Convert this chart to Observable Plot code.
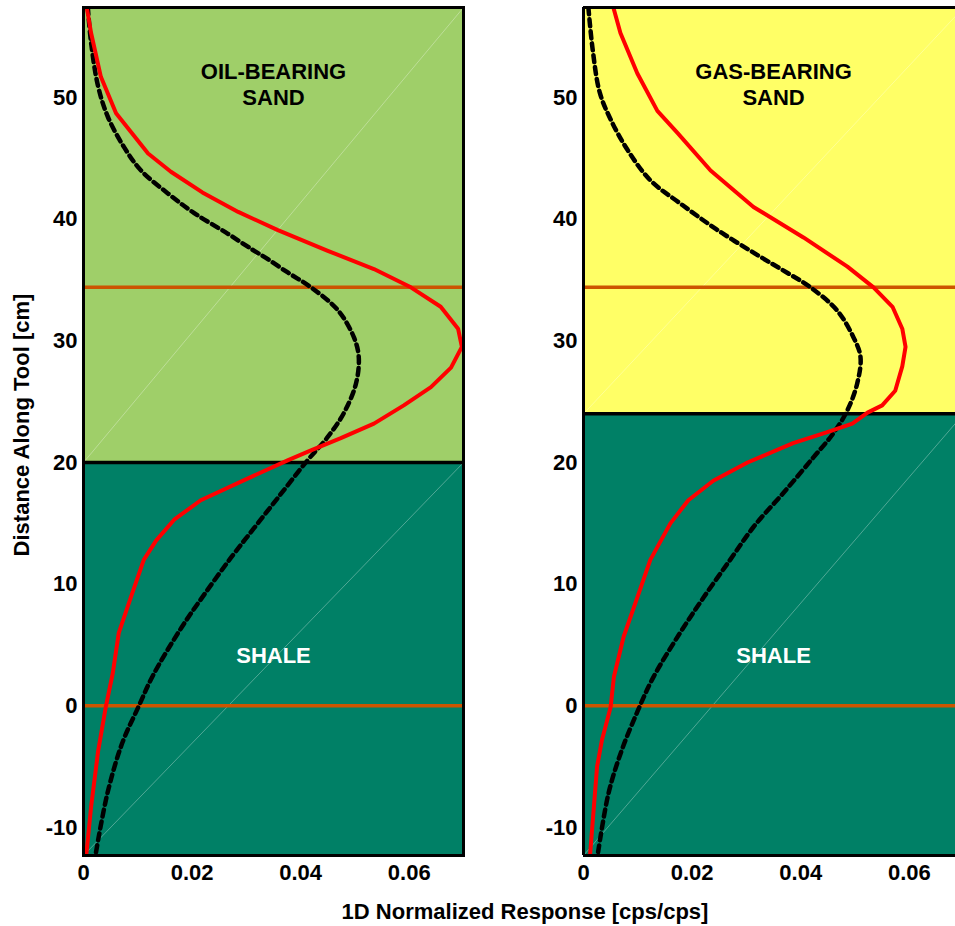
<!DOCTYPE html>
<html>
<head>
<meta charset="utf-8">
<script src="https://cdn.jsdelivr.net/npm/d3@7"></script>
<script src="https://cdn.jsdelivr.net/npm/@observablehq/plot@0.6"></script>
<style>
  body { margin: 0; background: #fff; }
  #wrap { position: relative; width: 955px; height: 926px; overflow: hidden;
          font-family: "Liberation Sans", Arial, sans-serif; font-weight: bold; color: #000; }
  #left { position: absolute; left: 0; top: 0; }
  #right { position: absolute; left: 480px; top: 0; }
  #xlab { position: absolute; left: 100px; width: 850px; top: 900px; font-size: 22px; line-height: 24px; text-align: center; }
  #ylab { position: absolute; left: -178px; width: 400px; top: 412px; height: 26px; font-size: 22px; line-height: 26px;
          text-align: center; transform: rotate(-90deg); transform-origin: 50% 50%; }
</style>
</head>
<body>
<div id="wrap">
  <div id="left"></div>
  <div id="right"></div>
  <div id="xlab">1D Normalized Response [cps/cps]</div>
  <div id="ylab">Distance Along Tool [cm]</div>
</div>
<script>
// ---- axis settings (values) ----
const yDomain = [-12.3, 57.4];
const xDomainOil = [0, 0.07];
const xDomainGas = [0, 0.0685];
const xTickValues = [0, 0.02, 0.04, 0.06];
const yTickValues = [-10, 0, 10, 20, 30, 40, 50];

// ---- formation boundaries and detector positions ----
const oilContact = 20;      // oil-bearing sand over shale
const gasContact = 24;      // gas-bearing sand over shale
const detectorDepths = [0, 34.4];

// ---- labels ----
const oilLabels = ["OIL-BEARING\nSAND", "SHALE"];
const gasLabels = ["GAS-BEARING\nSAND", "SHALE"];
const labelY = [51.1, 4.2];
const labelX = 0.035;

// ---- curves: oil-bearing panel ----
const oilRedY = [57.4, 55.3, 51.7, 48.7, 45.4, 43.9, 42.2, 40.6, 39.1, 37.4, 35.9, 34.4, 32.8, 31.0, 29.5, 27.8, 26.2, 24.7, 23.2, 22.0, 21.0, 20.2, 18.8, 16.9, 15.3, 13.6, 12.0, 8.9, 6.0, 2.7, -0.1, -3.7, -8.3, -12.3];
const oilRedX = [0.0006, 0.0014, 0.0032, 0.0060, 0.0119, 0.0161, 0.0219, 0.0285, 0.0358, 0.0450, 0.0535, 0.0603, 0.0658, 0.0690, 0.0697, 0.0677, 0.0640, 0.0590, 0.0535, 0.0474, 0.0419, 0.0377, 0.0308, 0.0216, 0.0167, 0.0134, 0.0111, 0.0087, 0.0065, 0.0054, 0.0041, 0.0027, 0.0014, 0.0005];
const oilDotY = [57.4, 54.5, 50.9, 48.4, 45.9, 44.0, 42.1, 40.5, 38.8, 37.5, 36.9, 35.6, 34.4, 32.5, 30.3, 28.7, 26.5, 24.1, 22.1, 20.2, 17.1, 14.6, 12.2, 9.0, 6.4, 2.5, -0.1, -3.1, -7.2, -12.3];
const oilDotX = [0.0008, 0.0014, 0.0027, 0.0045, 0.0075, 0.0106, 0.0156, 0.0204, 0.0266, 0.0311, 0.0333, 0.0377, 0.0419, 0.0469, 0.0498, 0.0507, 0.0502, 0.0480, 0.0450, 0.0413, 0.0358, 0.0314, 0.0272, 0.0220, 0.0180, 0.0128, 0.0101, 0.0071, 0.0044, 0.0022];

// ---- curves: gas-bearing panel ----
const gasRedY = [57.4, 55.3, 52.0, 48.9, 47.1, 44.0, 41.0, 38.5, 36.1, 34.4, 32.8, 31.0, 29.5, 27.9, 25.9, 24.7, 24.1, 23.2, 22.5, 21.6, 20.0, 18.5, 16.9, 15.0, 12.0, 8.9, 5.7, 2.4, -0.1, -2.8, -5.0, -12.3];
const gasRedX = [0.0055, 0.0068, 0.0099, 0.0136, 0.0173, 0.0234, 0.0313, 0.0405, 0.0486, 0.0534, 0.0569, 0.0587, 0.0593, 0.0587, 0.0574, 0.0550, 0.0523, 0.0495, 0.0449, 0.0386, 0.0302, 0.0239, 0.0193, 0.0160, 0.0123, 0.0099, 0.0074, 0.0056, 0.0050, 0.0034, 0.0025, 0.0012];
const gasDotY = [57.4, 53.9, 50.4, 48.2, 45.7, 43.2, 41.3, 39.1, 36.9, 35.6, 34.4, 32.5, 30.3, 28.7, 26.5, 24.3, 22.4, 20.4, 17.5, 14.7, 12.0, 8.9, 5.8, 2.3, -0.4, -3.7, -7.2, -12.3];
const gasDotX = [0.0009, 0.0017, 0.0030, 0.0050, 0.0081, 0.0123, 0.0178, 0.0247, 0.0326, 0.0375, 0.0418, 0.0467, 0.0497, 0.0510, 0.0504, 0.0486, 0.0460, 0.0423, 0.0368, 0.0313, 0.0270, 0.0221, 0.0175, 0.0128, 0.0100, 0.0070, 0.0046, 0.0026];

// ---- colours ----
const oilSandColor = "#9FCF69";
const gasSandColor = "#FFFF66";
const shaleColor = "#008066";
const detectorColor = "#CC5500";

const zip = (xs, ys) => xs.map((x, i) => ({x, y: ys[i]}));
const xTickFmt = d => d === 0 ? "0" : d3.format(".2f")(d);
const yTickFmt = d => String(d);

function panel({xDomain, width, marginLeft, marginRight, contact, sandColor, labels, redX, redY, dotX, dotY, fullFrame}) {
  const zones = [
    {bottom: yDomain[0], top: contact, color: shaleColor},
    {bottom: contact, top: yDomain[1], color: sandColor}
  ];
  const fullX = xDomainOil[1];
  const texts = labels.map((t, i) => ({text: t, x: labelX, y: labelY[i], fill: i === 0 ? "#000" : "#fff"}));
  const marks = [
    Plot.rect(zones, {x1: 0, x2: fullX, y1: "bottom", y2: "top", fill: "color", clip: true}),
    Plot.link(zones, {x1: 0, y1: "bottom", x2: fullX, y2: "top", stroke: "#ffffff", strokeOpacity: 0.45, strokeWidth: 0.7, clip: true}),
    Plot.ruleY(detectorDepths, {stroke: detectorColor, strokeWidth: 3.5}),
    Plot.ruleY([contact], {stroke: "#000", strokeWidth: 3.5}),
    Plot.line(zip(dotX, dotY), {x: "x", y: "y", stroke: "#000", strokeWidth: 4.5, strokeDasharray: "7,5", curve: "catmull-rom", clip: true}),
    Plot.line(zip(redX, redY), {x: "x", y: "y", stroke: "#FF0000", strokeWidth: 4, curve: "linear", clip: true}),
    Plot.text(texts, {x: "x", y: "y", text: "text", fill: "fill", fontSize: 22, fontWeight: "bold", lineHeight: 1.18}),
    Plot.axisX({ticks: xTickValues, tickSize: 0, tickPadding: 9, tickFormat: xTickFmt, label: null}),
    Plot.axisY({ticks: yTickValues, tickSize: 0, tickPadding: 6, tickFormat: yTickFmt, label: null})
  ];
  if (fullFrame) {
    marks.push(Plot.frame({stroke: "#000", strokeWidth: 3}));
  } else {
    marks.push(Plot.ruleX([0], {stroke: "#000", strokeWidth: 3}));
    marks.push(Plot.ruleY(yDomain, {stroke: "#000", strokeWidth: 3}));
  }
  return Plot.plot({
    width, height: 890,
    marginLeft, marginRight, marginTop: 7, marginBottom: 35,
    x: {domain: xDomain},
    y: {domain: yDomain},
    color: {type: "identity"},
    style: {fontFamily: "'Liberation Sans', Arial, sans-serif", fontSize: "22px", fontWeight: "bold", background: "transparent", overflow: "visible", maxWidth: "none", color: "#000"},
    marks
  });
}

document.getElementById("left").append(panel({
  xDomain: xDomainOil, width: 480, marginLeft: 83, marginRight: 17, contact: oilContact,
  sandColor: oilSandColor, labels: oilLabels, redX: oilRedX, redY: oilRedY, dotX: oilDotX, dotY: oilDotY, fullFrame: true
}));
document.getElementById("right").append(panel({
  xDomain: xDomainGas, width: 475, marginLeft: 103, marginRight: 0, contact: gasContact,
  sandColor: gasSandColor, labels: gasLabels, redX: gasRedX, redY: gasRedY, dotX: gasDotX, dotY: gasDotY, fullFrame: false
}));
</script>
</body>
</html>
